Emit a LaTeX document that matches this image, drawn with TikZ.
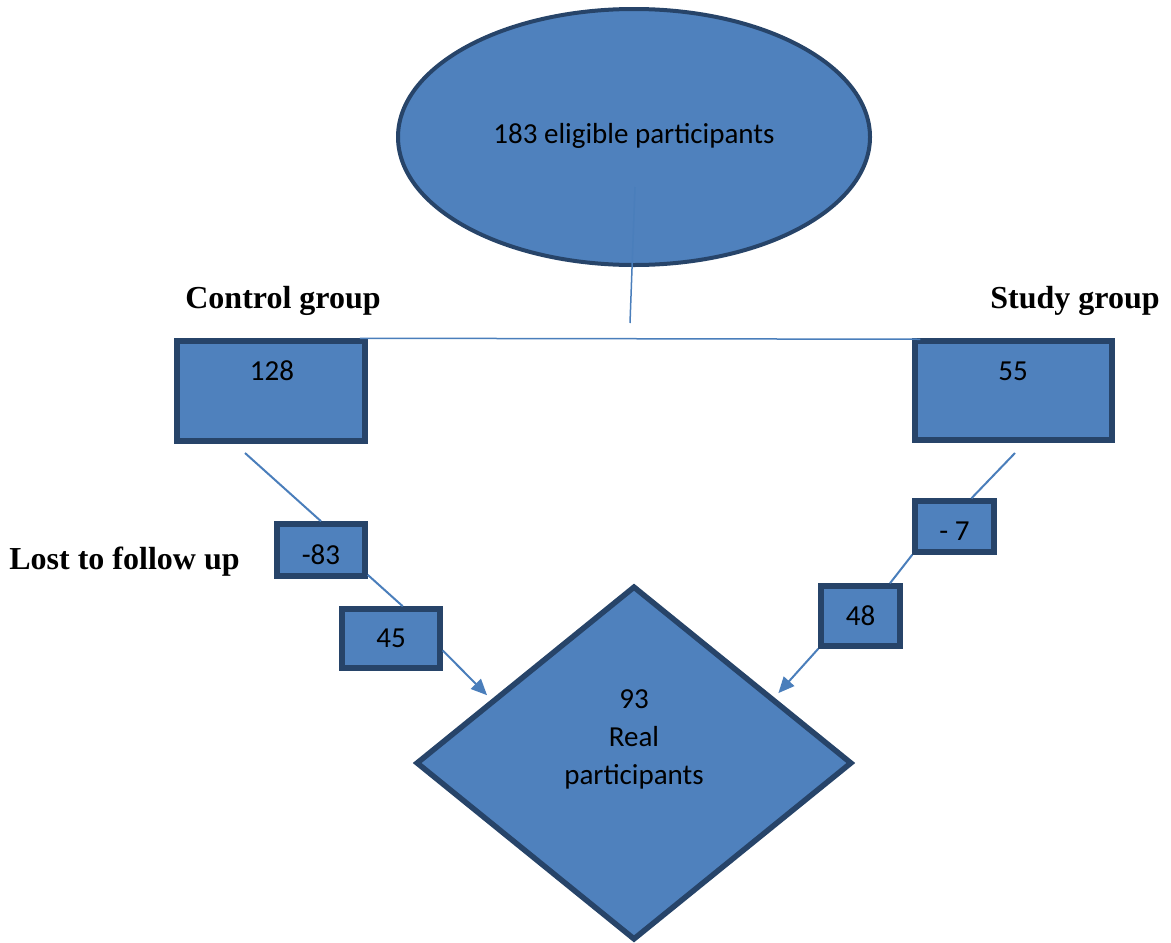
\documentclass[tikz,border=0pt]{standalone}
\usepackage{fontspec}
\setmainfont{Liberation Serif}
\newfontfamily\calibri{Carlito}
\usetikzlibrary{shapes.geometric,arrows.meta}

\definecolor{fillblue}{HTML}{4F81BD}
\definecolor{edgeblue}{HTML}{274469}
\definecolor{lineblue}{HTML}{4A7EBB}

\tikzset{
  box/.style={draw=edgeblue, fill=fillblue, line width=2.75pt, inner sep=0pt},
  num/.style={font=\calibri\fontsize{14.5}{17}\selectfont, inner sep=0pt},
  grouptitle/.style={font=\bfseries\fontsize{16}{19}\selectfont, inner sep=0pt, anchor=base},
  link/.style={draw=lineblue, line width=1pt},
  arrowlink/.style={link, -{Triangle[length=8pt,width=7pt]}}
}

\begin{document}
\begin{tikzpicture}[x=0.5pt, y=-0.5pt]
	\useasboundingbox (0,0) rectangle (1171,942);

	\node[ellipse, draw=edgeblue, fill=fillblue, line width=2pt, inner sep=0pt,
	      minimum width=236pt, minimum height=128pt] (eligible) at (634,137) {};
	\node[num, anchor=base] (eligtext) at (634,143) {183 eligible participants};

	\coordinate (stem) at (635,187);
	\coordinate (split) at (630,323);
	\draw[link, line width=0.75pt] (stem) to (split);

	\node[grouptitle] (ctrltitle) at (283,308) {Control group};
	\node[grouptitle] (studytitle) at (1075,308) {Study group};
	\node[grouptitle] (losttitle) at (124.5,569) {Lost to follow up};

	% group boxes
	\node[box, minimum width=94pt, minimum height=50pt] (ctrl) at (271,391) {};
	\node[num, anchor=base] (ctrlnum) at (272,380) {128};
	\node[box, minimum width=98.5pt, minimum height=49.5pt] (study) at (1013.5,390.5) {};
	\node[num, anchor=base] (studynum) at (1013,380) {55};
	\draw[link, line width=0.75pt] ([xshift=-4pt]ctrl.north east) to ([xshift=4pt,yshift=-0.5pt]study.north west);

	% lost and remaining
	\node[box, num, minimum width=44pt, minimum height=26pt, text height=14pt, text depth=0pt] (lostc) at (321,550) {-83};
	\node[box, num, minimum width=49pt, minimum height=29.5pt] (restc) at (391,638.5) {45};
	\node[box, num, minimum width=39.5pt, minimum height=25.5pt, text height=14pt, text depth=0pt] (losts) at (954.5,526.5) {- 7};
	\node[box, num, minimum width=39.5pt, minimum height=30pt] (rests) at (860.5,616) {48};

	\node[diamond, draw=edgeblue, fill=fillblue, line width=2.75pt, inner sep=0pt,
	      minimum width=218pt, minimum height=177pt] (real) at (634,763) {};
	\node[num, font=\calibri\fontsize{14.5}{19}\selectfont, align=center, anchor=north] (realtext) at (634,689) {93\\Real\\participants};

	\coordinate (ctrlfoot) at (245,453);
	\coordinate (studyfoot) at (1015,453);
	\draw[link] (ctrlfoot) to (lostc.north);
	\draw[link] (lostc.-28) to (restc.70);
	\draw[arrowlink, shorten >=3pt] (restc.-13) to (real.156);

	\draw[link] (studyfoot) to (losts.59);
	\draw[link] (losts.south west) to (rests.48);
	\draw[arrowlink, shorten >=3pt] (rests.south west) to (real.25);
\end{tikzpicture}
\end{document}
